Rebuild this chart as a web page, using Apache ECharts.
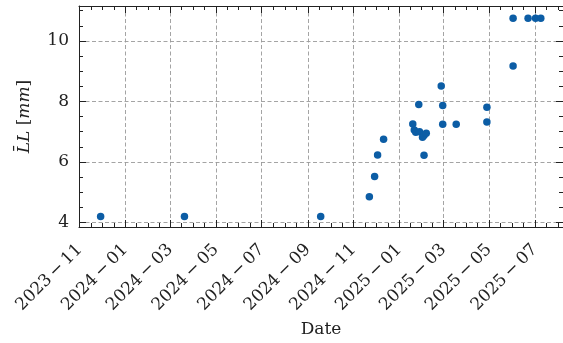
<!DOCTYPE html>
<html><head><meta charset="utf-8">
<script src="https://cdn.jsdelivr.net/npm/echarts@6/dist/echarts.min.js"></script>
<style>html,body{margin:0;padding:0;background:#fff}#c{width:563px;height:343px}</style>
</head><body><div id="c"></div>
<script>
// ---- data ----
const dates = ['2023-11-29','2024-03-20','2024-09-18','2024-11-22','2024-11-29','2024-12-03','2024-12-11',
  '2025-01-19','2025-01-21','2025-01-23','2025-01-27','2025-01-28','2025-02-01','2025-02-03','2025-02-03','2025-02-06',
  '2025-02-26','2025-02-28','2025-02-28','2025-03-18','2025-04-28','2025-04-28',
  '2025-06-02','2025-06-02','2025-06-22','2025-07-02','2025-07-09'];
const values = [4.2,4.2,4.2,4.85,5.52,6.23,6.75,
  7.26,7.06,6.98,7.9,7.0,6.82,6.88,6.22,6.95,
  8.51,7.87,7.25,7.25,7.81,7.32,
  10.75,9.17,10.75,10.75,10.75];
const xTickLabels = ['2023-11','2024-01','2024-03','2024-05','2024-07','2024-09','2024-11','2025-01','2025-03','2025-05','2025-07'];
const yTickValues = [4,6,8,10];
const xRange = ['2023-10-31T03:00','2025-08-07T16:00'];
const yRange = [3.851, 11.157];

// ---- helpers ----
function ts(s){ const [d,t] = s.split('T'); const [y,m,dd] = d.split('-').map(Number);
  let h=0, mi=0; if(t){ [h,mi] = t.split(':').map(Number); } return Date.UTC(y,(m-1),dd||1,h,mi); }
const xMajor = xTickLabels.map(s => ts(s + '-01'));
const xMinor = [];
const extMajor = xMajor.concat([ts('2025-09-01')]);
for (let i=0;i<extMajor.length-1;i++){ const a=extMajor[i], b=extMajor[i+1];
  for (let k=1;k<4;k++) xMinor.push(a+(b-a)*k/4); }
const yMinor = [];
for (let v=4; v<=11; v+=0.5) if (yTickValues.indexOf(v)<0) yMinor.push(v);
const xMin = ts(xRange[0]), xMax = ts(xRange[1]);
const labelMap = {}; xMajor.forEach((v,i)=> labelMap[v] = xTickLabels[i].replace('-', '\u2009\u2212\u2009'));

const serif = 'DejaVu Serif';
const fs = 17;
const ink = '#222';
const gridLine = {show:true, lineStyle:{color:'#9a9a9a', type:[4,2.5], width:0.9}};
const points = dates.map((d,i)=>[ts(d), values[i]]);

function xAx(pos, major, show){
  return {type:'value', position:pos, min:xMin, max:xMax,
    axisLine:{show:major, onZero:false, lineStyle:{color:ink, width:1}},
    axisTick:{show:true, inside:true, length: major?7:4, customValues: major?xMajor:xMinor, lineStyle:{color:ink, width:1}},
    axisLabel: show ? {show:true, customValues:xMajor, rotate:45, margin:20, formatter:v=>labelMap[v]||'',
        fontFamily:serif, fontSize:fs, color:ink} : {show:false},
    splitLine: show ? gridLine : {show:false},
    name: show ? 'Date' : '', nameLocation:'middle', nameGap:92,
    nameTextStyle:{fontFamily:serif, fontSize:fs, color:ink}};
}
function yAx(pos, major, show){
  return {type:'value', position:pos, min:yRange[0], max:yRange[1],
    axisLine:{show:major, onZero:false, lineStyle:{color:ink, width:1}},
    axisTick:{show:true, inside:true, length: major?7:4, customValues: major?yTickValues:yMinor, lineStyle:{color:ink, width:1}},
    axisLabel: show ? {show:true, customValues:yTickValues, margin:10, fontFamily:serif, fontSize:fs, color:ink} : {show:false},
    splitLine: show ? gridLine : {show:false},
    name: show ? '{i|L\u0304L} {n|[}{i|mm}{n|]}' : '', nameLocation:'middle', nameGap:46,
    nameTextStyle:{fontFamily:serif, fontSize:fs, color:ink,
      rich:{i:{fontFamily:serif, fontStyle:'italic', fontSize:fs, color:ink}, n:{fontFamily:serif, fontSize:fs, color:ink}}}};
}

const chart = echarts.init(document.getElementById('c'), null, {renderer:'canvas'});
chart.setOption({
  animation:false,
  backgroundColor:'#fff',
  grid:{left:79, top:6, width:486, height:221, containLabel:false},
  xAxis:[xAx('bottom',true,true), xAx('bottom',false,false), xAx('top',true,false), xAx('top',false,false)],
  yAxis:[yAx('left',true,true), yAx('left',false,false), yAx('right',true,false), yAx('right',false,false)],
  series:[{type:'scatter', xAxisIndex:0, yAxisIndex:0, data:points, symbol:'circle', symbolSize:7.5,
    itemStyle:{color:'#0C5DA5', opacity:1}, emphasis:{disabled:true}}]
});
</script>
</body></html>
